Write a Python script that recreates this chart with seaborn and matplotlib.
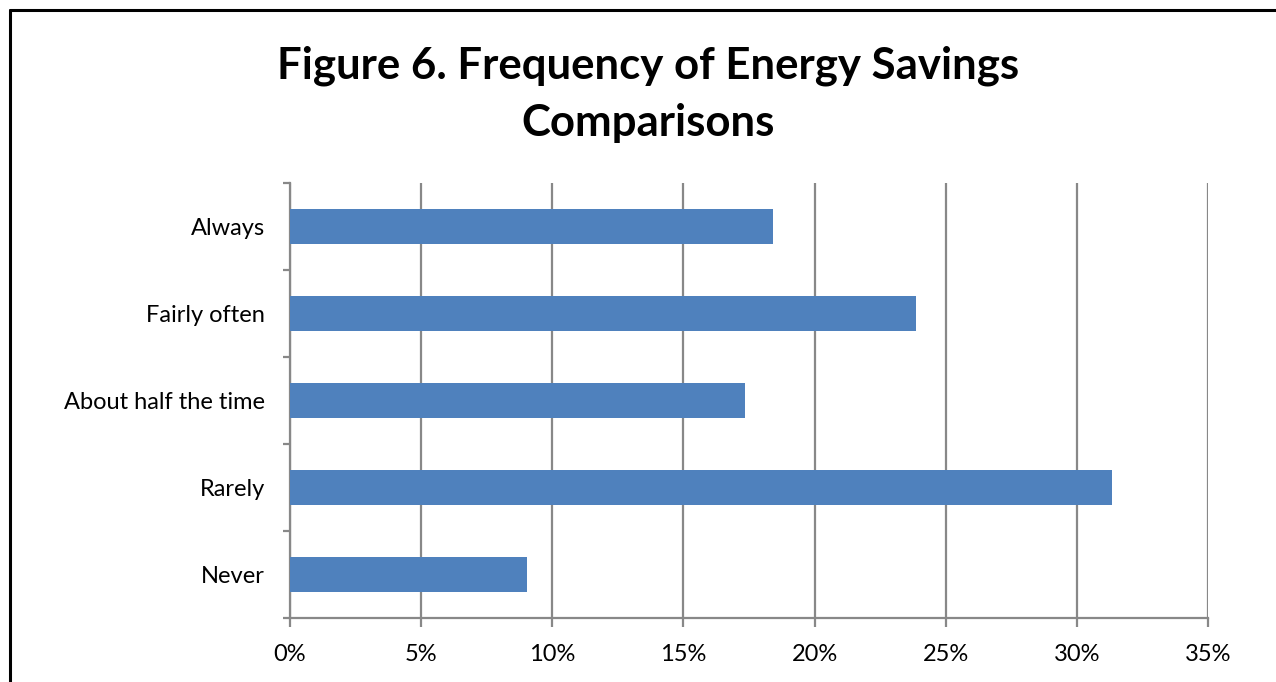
import matplotlib
matplotlib.use("Agg")
import matplotlib.pyplot as plt
from matplotlib.lines import Line2D
from matplotlib.ticker import FixedLocator, PercentFormatter
import seaborn as sns
import pandas as pd

categories = ["Always", "Fairly often", "About half the time", "Rarely", "Never"]
shares = [18.4, 23.85, 17.35, 31.35, 9.05]
x_ticks = [0, 5, 10, 15, 20, 25, 30, 35]
title_lines = ["Figure 6. Frequency of Energy Savings", "Comparisons"]

sns.set_theme(style="white")
plt.rcParams["font.family"] = ["Lato", "DejaVu Sans"]

df = pd.DataFrame({"category": categories, "share": shares})

fig = plt.figure(figsize=(12.76, 6.82), dpi=100)
ax = fig.add_axes([290 / 1276, 1 - 618 / 682, (1208 - 290) / 1276, (618 - 183) / 682])

sns.barplot(data=df, x="share", y="category", orient="h", color="#4F81BD",
            saturation=1, width=0.40, linewidth=0, ax=ax, zorder=3)

grid_c = "#888888"
ax.set_xlim(0, 35)
ax.set_ylim(len(categories) - 0.5, -0.5)
ax.xaxis.set_major_locator(FixedLocator(x_ticks))
ax.xaxis.set_major_formatter(PercentFormatter(decimals=0))
ax.grid(axis="x", color=grid_c, linewidth=1.6, zorder=0)
ax.set_axisbelow(True)
ax.set_xlabel("")
ax.set_ylabel("")

for s in ["top", "right"]:
    ax.spines[s].set_visible(False)
for s in ["left", "bottom"]:
    ax.spines[s].set_color(grid_c)
    ax.spines[s].set_linewidth(1.6)

ax.tick_params(axis="x", bottom=True, length=6.5, width=1.6, color=grid_c,
               labelsize=17, labelcolor="black", pad=12)
ax.tick_params(axis="y", which="major", left=False, length=0,
               labelsize=17, labelcolor="black", pad=18)
ax.set_yticks([i - 0.5 for i in range(len(categories) + 1)], minor=True)
ax.tick_params(axis="y", which="minor", left=True, length=5, width=1.6, color=grid_c)

for line, ypx in zip(title_lines, [66, 123]):
    fig.text(0.508, 1 - ypx / 682, line, ha="center", va="center",
             fontsize=31.5, fontweight="bold", color="black")

# outer frame: left and top edges
fig.add_artist(Line2D([10 / 1276, 10 / 1276], [0, 1 - 10 / 682],
                      transform=fig.transFigure, color="black", linewidth=2.2))
fig.add_artist(Line2D([10 / 1276, 1], [1 - 10 / 682, 1 - 10 / 682],
                      transform=fig.transFigure, color="black", linewidth=2.2))

fig.savefig("out.png", dpi=100)
